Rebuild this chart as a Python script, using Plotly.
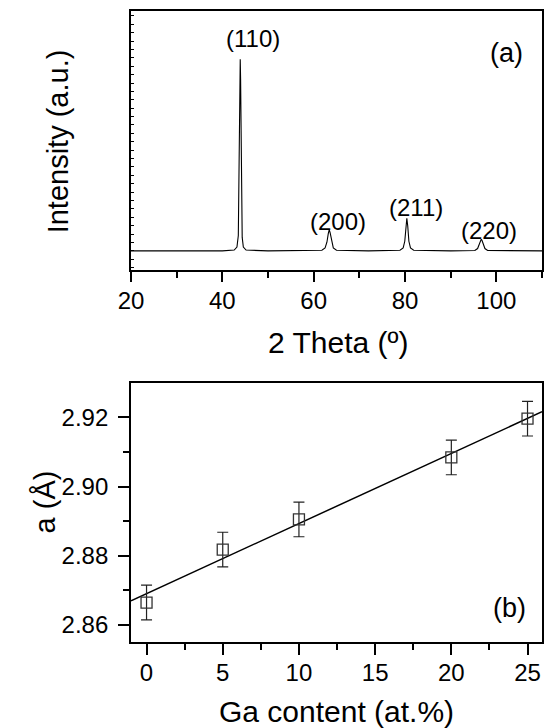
import numpy as np
import plotly.graph_objects as go

# ---------------- data ----------------
# (a) XRD pattern, intensities (baseline = 0, (110) peak = 1)
two_theta = [20.0, 40.0, 42.6, 43.2, 43.5, 43.7, 43.85, 43.92, 44.0, 44.15, 44.35, 44.6, 45.2,
             50.0, 61.8, 62.5, 62.9, 63.2, 63.4, 63.6, 63.9, 64.3, 65.0,
             72.0, 78.9, 79.6, 79.95, 80.2, 80.4, 80.6, 80.85, 81.2, 81.9,
             90.0, 95.3, 95.9, 96.3, 96.55, 96.7, 96.85, 97.1, 97.5, 98.1, 110.0]
intensity = [0.0, 0.0, 0.004, 0.02, 0.08, 0.45, 0.95, 1.0, 0.9, 0.4, 0.07, 0.02, 0.004,
             0.0, 0.003, 0.015, 0.045, 0.09, 0.11, 0.095, 0.05, 0.015, 0.003,
             0.0, 0.003, 0.015, 0.05, 0.13, 0.17, 0.13, 0.05, 0.015, 0.003,
             0.0, 0.002, 0.012, 0.035, 0.057, 0.061, 0.055, 0.035, 0.012, 0.002, 0.0]
peak_labels = ["(110)", "(200)", "(211)", "(220)"]
peak_label_x = [46.7, 65.4, 82.4, 98.5]
peak_label_y = [1.106, 0.151, 0.224, 0.104]

# (b) lattice parameter vs Ga content
ga_content = [0, 5, 10, 20, 25]
lattice_a = [2.8665, 2.8818, 2.8905, 2.9084, 2.9196]
lattice_err = [0.005, 0.005, 0.005, 0.005, 0.005]

x_ticks_a = [20, 40, 60, 80, 100]
x_ticks_b = [0, 5, 10, 15, 20, 25]
y_ticks_b = [2.86, 2.88, 2.90, 2.92]

# ---------------- layout geometry ----------------
W, H = 547, 728
L, R, T, B = 131, 3, 11, 86
PW = W - L - R
PH = H - T - B


def px_x(p):
    return (p - L) / PW


def px_y(p):
    return (H - B - p) / PH


FONT = "Arial, 'Liberation Sans', sans-serif"
BLACK = "#000000"

fig = go.Figure()

fig.add_trace(go.Scatter(x=two_theta, y=intensity, mode="lines",
                         line=dict(color=BLACK, width=1.1),
                         xaxis="x", yaxis="y", showlegend=False, hoverinfo="skip"))

slope, intercept = np.polyfit(ga_content, lattice_a, 1)
x_range_b = [-1.02, 25.95]
fit_x = np.array(x_range_b)
fig.add_trace(go.Scatter(x=fit_x, y=slope * fit_x + intercept, mode="lines",
                         line=dict(color=BLACK, width=1.5),
                         xaxis="x2", yaxis="y2", showlegend=False, hoverinfo="skip"))

fig.add_trace(go.Scatter(x=ga_content, y=lattice_a, mode="markers",
                         marker=dict(symbol="square-open", size=11, color="#333333",
                                     line=dict(width=1.3, color="#333333")),
                         error_y=dict(type="data", array=lattice_err, visible=True,
                                      color="#222222", thickness=1.2, width=5.5),
                         xaxis="x2", yaxis="y2", showlegend=False, hoverinfo="skip"))

dom_a = [px_y(270), px_y(11)]
dom_b = [px_y(642), px_y(383)]

common = dict(showline=True, linecolor=BLACK, linewidth=1.8, mirror=True,
              showgrid=False, zeroline=False,
              tickfont=dict(family=FONT, size=24, color=BLACK),
              tickcolor=BLACK, tickwidth=1.8)

fig.update_layout(
    width=W, height=H,
    margin=dict(l=L, r=R, t=T, b=B),
    paper_bgcolor="white", plot_bgcolor="white",
    showlegend=False,
    xaxis=dict(domain=[0, 1], anchor="y", range=[20, 110],
               tickmode="array", tickvals=x_ticks_a, ticks="outside", ticklen=10,
               minor=dict(dtick=10, tick0=20, ticks="outside", ticklen=6,
                          tickcolor=BLACK, tickwidth=1.8),
               ticklabelstandoff=-2,
               **common),
    yaxis=dict(domain=dom_a, anchor="x", range=[-0.1, 1.252],
               showticklabels=False, ticks="inside", ticklen=3, tick0=0, dtick=0.0438,
               **{k: v for k, v in common.items() if k != "tickwidth"}, tickwidth=1),
    yaxis3=dict(overlaying="y", side="right", anchor="x", range=[-0.1, 1.252],
                showticklabels=False, ticks="outside", ticklen=2, tick0=0, dtick=0.0438,
                tickcolor=BLACK, tickwidth=1, showline=False, showgrid=False, zeroline=False),
    xaxis3=dict(overlaying="x", side="top", anchor="y", range=[20, 110],
                showticklabels=False, ticks="inside", ticklen=2, dtick=10, tick0=20,
                tickcolor=BLACK, tickwidth=1, showline=False, showgrid=False, zeroline=False),
    xaxis2=dict(domain=[0, 1], anchor="y2", range=x_range_b,
                tickmode="array", tickvals=x_ticks_b, ticks="outside", ticklen=11,
                minor=dict(dtick=2.5, tick0=0, ticks="outside", ticklen=6,
                           tickcolor=BLACK, tickwidth=1.8),
                ticklabelstandoff=-3,
                **common),
    yaxis2=dict(domain=dom_b, anchor="x2", range=[2.8551, 2.9299],
                tickmode="array", tickvals=y_ticks_b, tickformat=".2f",
                ticks="outside", ticklen=11,
                minor=dict(dtick=0.01, tick0=2.86, ticks="outside", ticklen=6,
                           tickcolor=BLACK, tickwidth=1.8),
                ticklabelstandoff=5,
                **common),
    xaxis4=dict(overlaying="x2", side="top", anchor="y2", range=x_range_b,
                showticklabels=False, ticks="inside", ticklen=3, dtick=2.5, tick0=0,
                tickcolor=BLACK, tickwidth=1, showline=False, showgrid=False, zeroline=False),
    yaxis4=dict(overlaying="y2", side="right", anchor="x2", range=[2.8551, 2.9299],
                showticklabels=False, ticks="inside", ticklen=3, dtick=0.01, tick0=2.86,
                tickcolor=BLACK, tickwidth=1, showline=False, showgrid=False, zeroline=False),
)

annotations = []
for lab, lx, ly in zip(peak_labels, peak_label_x, peak_label_y):
    annotations.append(dict(x=lx, y=ly, xref="x", yref="y", text=lab, showarrow=False,
                            font=dict(family=FONT, size=24, color=BLACK),
                            xanchor="center", yanchor="middle"))
annotations.append(dict(x=102.2, y=1.033, xref="x", yref="y", text="(a)", showarrow=False,
                        font=dict(family=FONT, size=27, color=BLACK),
                        xanchor="center", yanchor="middle"))
annotations.append(dict(x=23.83, y=2.8649, xref="x2", yref="y2", text="(b)", showarrow=False,
                        font=dict(family=FONT, size=27, color=BLACK),
                        xanchor="center", yanchor="middle"))

title_font = dict(family=FONT, size=29, color=BLACK)
annotations += [
    dict(x=px_x(339), y=px_y(342), xref="paper", yref="paper", text="2 Theta (º)",
         showarrow=False, font=dict(family=FONT, size=30, color=BLACK),
         xanchor="center", yanchor="middle"),
    dict(x=px_x(338), y=px_y(711), xref="paper", yref="paper", text="Ga content (at.%)",
         showarrow=False, font=dict(family=FONT, size=30, color=BLACK),
         xanchor="center", yanchor="middle"),
    dict(x=px_x(58), y=px_y(141), xref="paper", yref="paper", text="Intensity (a.u.)",
         showarrow=False, font=title_font, textangle=-90, xanchor="center", yanchor="middle"),
    dict(x=px_x(45), y=px_y(502), xref="paper", yref="paper", text="a (Å)",
         showarrow=False, font=title_font, textangle=-90, xanchor="center", yanchor="middle"),
]
fig.update_layout(annotations=annotations)

fig.write_html("out.html", config={"displayModeBar": False},
               post_script="document.body.style.margin='0';document.body.style.padding='0';")
